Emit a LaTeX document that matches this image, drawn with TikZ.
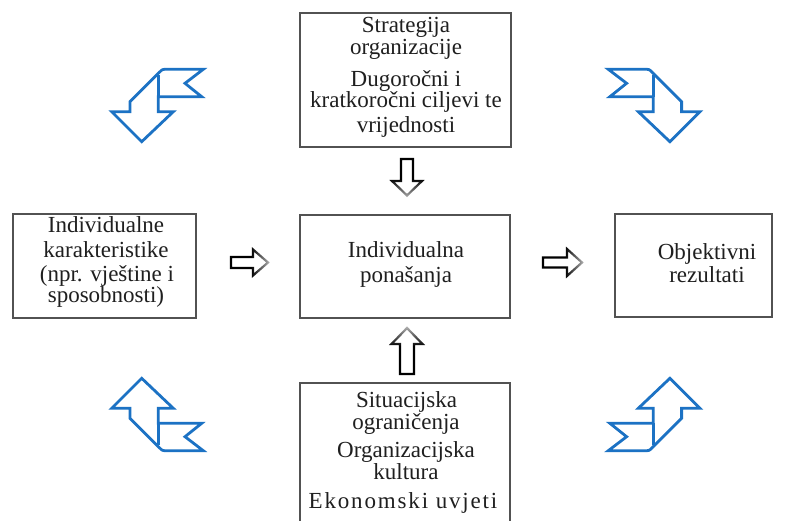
\documentclass[tikz,border=0pt]{standalone}
\usepackage{fontspec}
\setmainfont{Liberation Serif}
\usetikzlibrary{fadings}
\tikzfading[name=fadeE, left color=transparent!100, right color=transparent!25]
\tikzfading[name=fadeS, top color=transparent!100, bottom color=transparent!25]
\tikzfading[name=fadeN, bottom color=transparent!100, top color=transparent!25]
\definecolor{ribbonblue}{HTML}{1C72C4}
\newcommand\ribbonshape{%
  \draw[ribbon] (141.7,141.7) -- (173.3,111.7) -- (158.3,111.7) -- (158.3,96.7)
    -- (201.7,96.7) -- (185,83.3) -- (203.3,69.3) -- (167,69.3)
    .. controls (162.4,69.3) .. (159.4,72.3) -- (130,101.7) -- (130,111.7)
    -- (111.7,111.7) -- cycle;
  \draw[ribbon] (158.3,96.7) -- (158.3,75);
}
\begin{document}
\begin{tikzpicture}[x=1pt,y=-1pt,
  ribbon/.style={draw=ribbonblue, line width=2.8pt, line join=miter, fill=white},
  box/.style={draw=black!68, line width=1.3pt, inner sep=0pt, fill=white},
  txt/.style={anchor=base, inner sep=0pt, font=\fontsize{23}{23}\selectfont, text=black!88},
  blockarrow/.style={draw=black, line width=2.2pt, fill=white, line join=miter}]
\useasboundingbox (0,0) rectangle (785,521);
\clip (0,0) rectangle (785,521);
\fill[white] (0,0) rectangle (785,521);

% corner ribbon arrows
\begin{scope}\ribbonshape\end{scope}
\begin{scope}[shift={(811.6,0)}, xscale=-1]\ribbonshape\end{scope}
\begin{scope}[shift={(0,520)}, yscale=-1]\ribbonshape\end{scope}
\begin{scope}[shift={(811.6,520)}, xscale=-1, yscale=-1]\ribbonshape\end{scope}

% boxes
\node[box, minimum width=211pt, minimum height=134pt] (top) at (405.5,80) {};
\node[box, minimum width=210pt, minimum height=103pt] (mid) at (405,266.5) {};
\node[box, minimum width=183pt, minimum height=104pt] (left) at (104.5,266) {};
\node[box, minimum width=157pt, minimum height=103pt] (right) at (693.5,265.5) {};
\node[box, minimum width=210pt, minimum height=142pt] (bot) at (405,454) {};

% texts
\node[txt] (t1) at (406,33) {Strategija};
\node[txt] (t2) at (406,55) {organizacije};
\node[txt] (t3) at (406,87) {Dugoročni i};
\node[txt] (t4) at (406,108) {kratkoročni ciljevi te};
\node[txt] (t5) at (406,133) {vrijednosti};

\node[txt] (m1) at (406,258) {Individualna};
\node[txt] (m2) at (406,283) {ponašanja};

\node[txt] (l1) at (106,233) {Individualne};
\node[txt] (l2) at (106,258) {karakteristike};
\node[txt] (l3) at (107,282) {(npr. vještine i};
\node[txt] (l4) at (106,303) {sposobnosti)};

\node[txt] (r1) at (707,260) {Objektivni};
\node[txt] (r2) at (707,283) {rezultati};

\node[txt] (b1) at (406.5,408) {Situacijska};
\node[txt] (b2) at (406,430) {ograničenja};
\node[txt] (b3) at (406,457) {Organizacijska};
\node[txt] (b4) at (406,479.5) {kultura};
\node[txt] (b5) at (403,508) {\addfontfeatures{LetterSpace=8}Ekonomski uvjeti};

% block arrows
\draw[blockarrow] (401,159) -- (413,159) -- (413,181) -- (422,181) -- (407,195.5)
  -- (392,181) -- (401,181) -- cycle;
\fill[white, path fading=fadeS] (389,179) rectangle (425,199);

\draw[blockarrow] (407,328) -- (422.5,344) -- (414,344) -- (414,374) -- (400,374)
  -- (400,344) -- (391.5,344) -- cycle;
\fill[white, path fading=fadeN] (388,325) rectangle (426,346);

\draw[blockarrow] (231,257) -- (253,257) -- (253,249.5) -- (268,262.5) -- (253,275.5)
  -- (253,268) -- (231,268) -- cycle;
\fill[white, path fading=fadeE] (251,246) rectangle (271,279);

\draw[blockarrow] (543,257.5) -- (567,257.5) -- (567,249) -- (582,262.5) -- (567,276)
  -- (567,267.5) -- (543,267.5) -- cycle;
\fill[white, path fading=fadeE] (565,246) rectangle (585,279);
\end{tikzpicture}
\end{document}
